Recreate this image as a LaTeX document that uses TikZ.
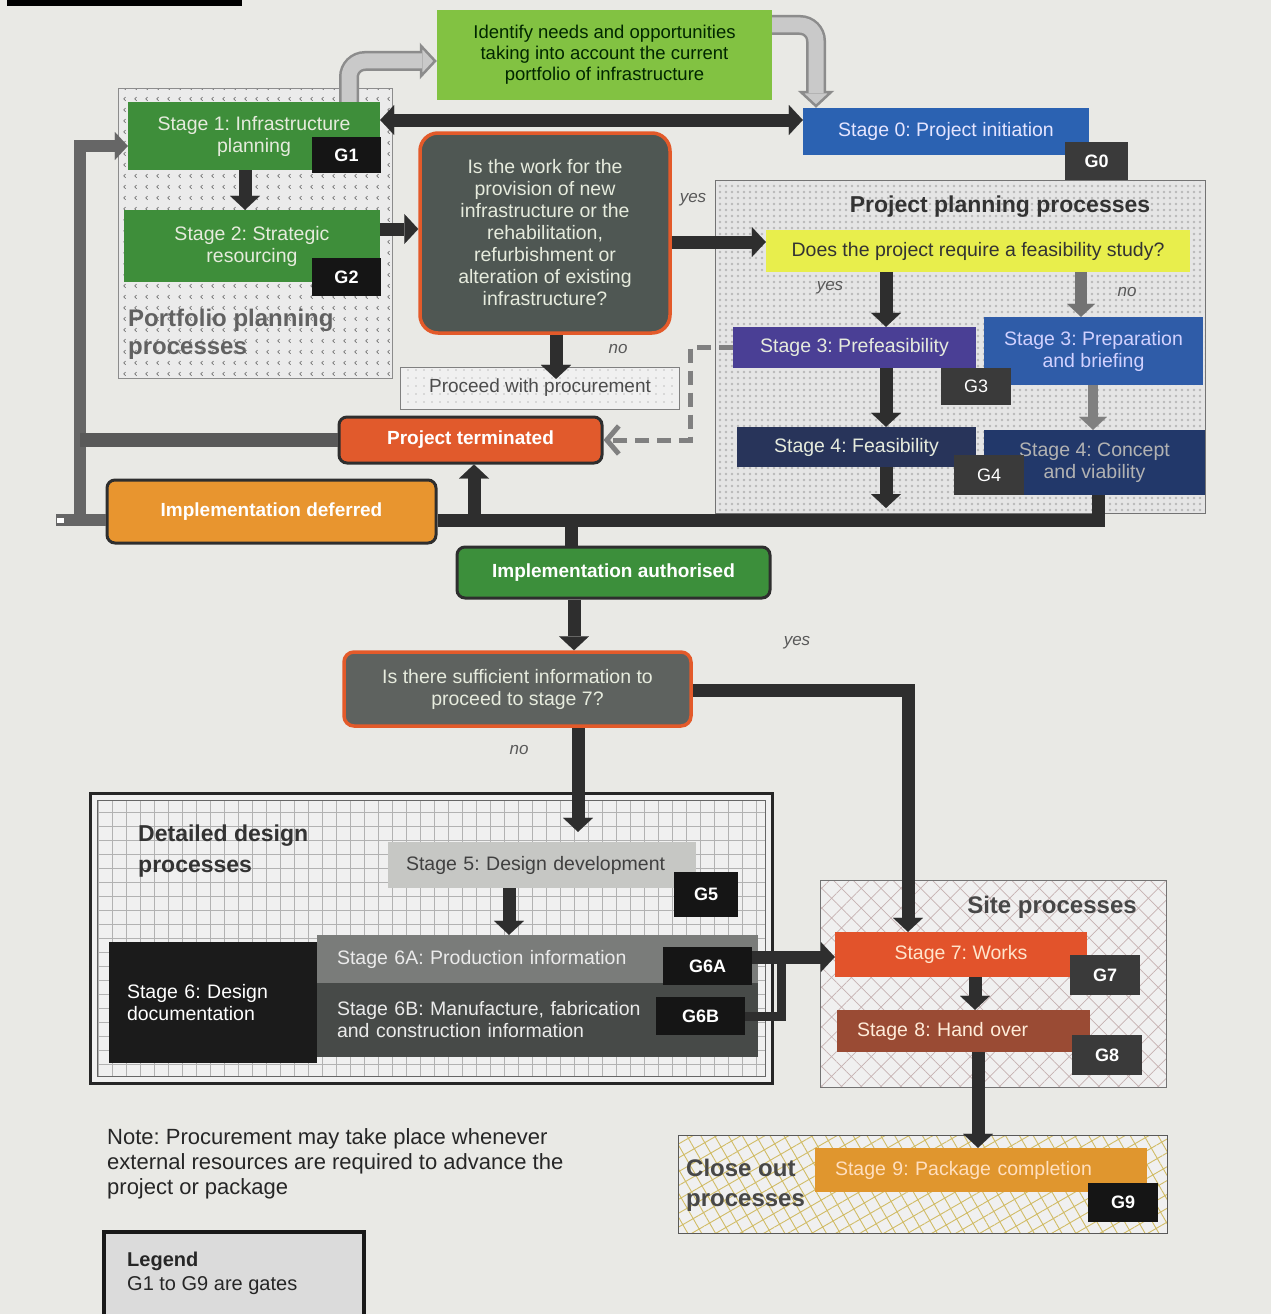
\documentclass[tikz,border=0pt]{standalone}
\usepackage{fontspec}
\setmainfont{Liberation Sans}
\usetikzlibrary{arrows.meta,patterns,patterns.meta}

\tikzdeclarepattern{name=ticks, type=uncolored,
  bounding box={(0pt,0pt) and (11pt,11pt)},
  tile size={(11pt,11pt)},
  code={\path[draw,line width=0.7pt] (5pt,7.5pt) -- (3pt,5.5pt) -- (5pt,3.5pt);}}

\definecolor{bgc}{HTML}{E9E9E5}
\definecolor{arrc}{HTML}{2E2E2E}
\definecolor{grayc}{HTML}{6A6A6A}
\definecolor{green1}{HTML}{3E8E3A}
\definecolor{limec}{HTML}{82C242}
\definecolor{blue0}{HTML}{2B62B2}
\definecolor{decc}{HTML}{4F5753}
\definecolor{decb}{HTML}{E35A2A}
\definecolor{yelc}{HTML}{E8EE4C}
\definecolor{purp}{HTML}{4A3F95}
\definecolor{blue3}{HTML}{2F5CA8}
\definecolor{navy4}{HTML}{28345A}
\definecolor{blue4}{HTML}{22386A}
\definecolor{gatec}{HTML}{151515}
\definecolor{gatecb}{HTML}{3A3A3A}
\definecolor{termc}{HTML}{E15A2C}
\definecolor{deferc}{HTML}{E8952F}
\definecolor{authc}{HTML}{3C8F3B}
\definecolor{dec2c}{HTML}{5E625F}
\definecolor{s5c}{HTML}{C6C7C4}
\definecolor{s6c}{HTML}{1B1B1B}
\definecolor{s6ac}{HTML}{7A7C7A}
\definecolor{s6bc}{HTML}{474A48}
\definecolor{s7c}{HTML}{E2532B}
\definecolor{s8c}{HTML}{9A4B34}
\definecolor{s9c}{HTML}{E0962E}
\definecolor{ltxt}{HTML}{E6EBDD}
\definecolor{hollowc}{HTML}{C9C9C9}
\definecolor{hollowd}{HTML}{8C8C8C}

\newcommand\mkbox[7]{\node[#1, minimum width={#5-#3}, minimum height={#6-#4}] (#2) at ({(#3+#5)/2},{(#4+#6)/2}) {#7};}

\begin{document}
\frenchspacing
\begin{tikzpicture}[x=1pt,y=-1pt,
  stg/.style={inner sep=0pt, align=center, draw=none, text=ltxt, font=\fontsize{19.5}{22}\selectfont},
  gatebox/.style={inner sep=0pt, fill=gatec, text=white, font=\fontsize{18}{20}\selectfont\bfseries},
  rbox/.style={inner sep=0pt, align=center, rounded corners=8pt, draw=arrc, line width=3pt, text=white, font=\fontsize{19}{22}\selectfont\bfseries},
  decbox/.style={inner sep=0pt, align=center, rounded corners=18pt, draw=decb, line width=3.5pt, text=ltxt, font=\fontsize{19.5}{22}\selectfont},
  grptitle/.style={inner sep=0pt, align=left, font=\fontsize{24}{30}\selectfont\bfseries, text=black!80},
  lbl/.style={inner sep=0pt, font=\fontsize{17}{20}\selectfont\itshape, text=black!65},
  arr/.style={line width=13pt, draw=arrc, -{Triangle[length=14pt,width=30pt,line width=0.1pt]}},
  thickbar/.style={line width=13pt, draw=arrc},
  grayarr/.style={line width=12pt, draw=grayc, -{Triangle[length=13pt,width=28pt,line width=0.1pt]}},
  graybar/.style={line width=12pt, draw=grayc},
  dasharr/.style={line width=5pt, draw=black!50, dash pattern=on 14pt off 8pt, -{Straight Barb[length=12pt,width=28pt,line width=5pt]}},
  hollowout/.style={line width=20pt, draw=hollowd, rounded corners=16pt, -{Triangle[length=17pt,width=36pt,line width=2.5pt,fill=hollowc]}},
  hollowin/.style={line width=15pt, draw=hollowc, rounded corners=16pt, shorten >=15pt}
]
\useasboundingbox (0,0) rectangle (1271,1314);
\clip (0,0) rectangle (1271,1314);
\fill[bgc] (0,0) rectangle (1271,1314);
\fill[black] (7,0) rectangle (242,6);

% ---------- group regions ----------
\fill[black!8] (118,88) rectangle (392,378);
\fill[pattern=ticks, pattern color=black!55] (118,88) rectangle (392,378);
\draw[black!45, line width=1pt] (118,88) rectangle (392,378);

\fill[black!10] (715,180) rectangle (1205,513);
\fill[pattern={Dots[distance=6pt,radius=1.3pt]}, pattern color=black!28] (715,180) rectangle (1205,513);
\draw[black!55, line width=1pt] (715,180) rectangle (1205,513);

\fill[black!6] (400,367) rectangle (679,409);
\fill[pattern={Dots[distance=8pt,radius=0.7pt]}, pattern color=black!45] (400,367) rectangle (679,409);
\draw[black!50, line width=0.8pt] (400,367) rectangle (679,409);

\fill[black!6] (90,793) rectangle (772,1083);
\draw[black!30, line width=0.8pt, step=14pt] (97,800) grid (765,1076);
\draw[black!85, line width=3pt] (90,793) rectangle (772,1083);
\draw[black!60, line width=1pt] (97,800) rectangle (765,1076);

\fill[black!6] (820,880) rectangle (1166,1087);
\fill[pattern={Hatch[distance=14pt,angle=45,line width=0.7pt]}, pattern color=red!25!black!30] (820,880) rectangle (1166,1087);
\draw[black!55, line width=1pt] (820,880) rectangle (1166,1087);

\fill[black!6] (678,1135) rectangle (1167,1233);
\fill[pattern={Hatch[distance=12pt,angle=30,line width=0.9pt]}, pattern color=yellow!60!orange!70!black!60] (678,1135) rectangle (1167,1233);
\draw[black!65, line width=1pt] (678,1135) rectangle (1167,1233);

% ---------- group titles ----------
\node[grptitle, text=black!62, anchor=west, font=\fontsize{24}{28}\selectfont\bfseries] (tport) at (128,334) {Portfolio planning\\processes};
\node[grptitle, font=\fontsize{23}{28}\selectfont\bfseries] (tproj) at (1000,207) {Project planning processes};
\node[grptitle, anchor=west, font=\fontsize{23}{31}\selectfont\bfseries] (tdd) at (138,851) {Detailed design\\processes};
\node[grptitle, text=black!72] (tsite) at (1052,907) {Site processes};
\node[grptitle, text=black!72, anchor=west] (tclose) at (686,1185) {Close out\\processes};

% ---------- boxes ----------
\mkbox{stg, fill=limec, text=black!75!green!60!black, font=\fontsize{18.5}{21}\selectfont}{ident}{437}{10}{772}{100}{Identify needs and opportunities\\taking into account the current\\portfolio of infrastructure}
\mkbox{stg, fill=green1}{s1}{128}{102}{380}{170}{Stage 1: Infrastructure\\planning}
\mkbox{gatebox}{g1}{312}{137}{381}{173}{G1}
\mkbox{stg, fill=green1}{s2}{124}{210}{380}{282}{Stage 2: Strategic\\resourcing}
\mkbox{gatebox}{g2}{312}{258}{381}{296}{G2}
\mkbox{stg, fill=blue0, text=white!90!blue}{s0}{803}{108}{1089}{155}{Stage 0: Project initiation}
\mkbox{gatebox, fill=gatecb}{g0}{1065}{142}{1128}{180}{G0}
\mkbox{decbox, fill=decc}{dec1}{420}{133}{670}{333}{Is the work for the\\provision of new\\infrastructure or the\\rehabilitation,\\refurbishment or\\alteration of existing\\infrastructure?}
\mkbox{stg, fill=yelc, text=black!80}{yel}{766}{230}{1190}{272}{Does the project require a feasibility study?}
\mkbox{stg, fill=purp}{s3a}{733}{327}{976}{368}{Stage 3: Prefeasibility}
\mkbox{stg, fill=blue3, text=white!82!blue}{s3b}{984}{317}{1203}{385}{Stage 3: Preparation\\and briefing}
\mkbox{gatebox, fill=gatecb, font=\fontsize{18}{20}\selectfont}{g3}{941}{368}{1011}{405}{G3}
\mkbox{stg, fill=navy4}{s4a}{737}{427}{976}{467}{Stage 4: Feasibility}
\mkbox{stg, fill=blue4, text=black!30}{s4b}{984}{430}{1205}{495}{Stage 4: Concept\\and viability}
\mkbox{gatebox, fill=gatecb, font=\fontsize{18}{20}\selectfont}{g4}{954}{455}{1024}{495}{G4}
\node[inner sep=0pt, text=black!70, font=\fontsize{19}{22}\selectfont] (proc) at (540,388) {Proceed with procurement};
\mkbox{rbox, fill=termc}{term}{339}{417}{602}{463}{Project terminated}
\mkbox{rbox, fill=deferc}{defer}{107}{480}{436}{543}{Implementation deferred}
\mkbox{rbox, fill=authc}{auth}{457}{547}{770}{598}{Implementation authorised}
\mkbox{decbox, fill=dec2c, rounded corners=10pt}{dec2}{344}{652}{691}{726}{Is there sufficient information to\\proceed to stage 7?}
\mkbox{stg, fill=s5c, text=black!75, align=left, inner xsep=18pt, text width=272pt}{s5}{388}{842}{696}{888}{Stage 5: Design development}
\mkbox{gatebox}{g5}{674}{872}{738}{917}{G5}
\mkbox{stg, fill=s6c, text=white, align=left, inner xsep=18pt, text width=172pt}{s6}{109}{942}{317}{1063}{Stage 6: Design\\documentation}
\mkbox{stg, fill=s6ac, text=white!92!black, align=left, inner xsep=20pt, text width=401pt}{s6a}{317}{935}{758}{983}{Stage 6A: Production information}
\mkbox{stg, fill=s6bc, text=white!92!black, align=left, inner xsep=20pt, text width=401pt}{s6b}{317}{983}{758}{1057}{Stage 6B: Manufacture, fabrication\\and construction information}
\mkbox{gatebox}{g6a}{663}{947}{752}{985}{G6A}
\mkbox{gatebox}{g6b}{656}{997}{745}{1035}{G6B}
\mkbox{stg, fill=s7c, text=white!80!orange}{s7}{835}{932}{1087}{977}{Stage 7: Works}
\mkbox{gatebox, fill=gatecb}{g7}{1070}{955}{1140}{995}{G7}
\mkbox{stg, fill=s8c, text=white!85!orange, align=left, inner xsep=20pt, text width=213pt}{s8}{837}{1010}{1090}{1052}{Stage 8: Hand over}
\mkbox{gatebox, fill=gatecb}{g8}{1072}{1035}{1142}{1075}{G8}
\mkbox{stg, fill=s9c, text=white!75!orange, align=left, inner xsep=20pt, text width=292pt}{s9}{815}{1148}{1147}{1192}{Stage 9: Package completion}
\mkbox{gatebox}{g9}{1088}{1183}{1158}{1222}{G9}

% ---------- labels ----------
\node[lbl] (yes1) at (693,200) {yes};
\node[lbl] (no1) at (618,349) {no};
\node[lbl] (yes2) at (830,288) {yes};
\node[lbl] (no2) at (1127,292) {no};
\node[lbl] (yes3) at (797,643) {yes};
\node[lbl] (no3) at (519,750) {no};

% ---------- junction coordinates ----------
\coordinate (xA) at (245,0);
\coordinate (yB) at (0,229);
\coordinate (yC) at (0,242);
\coordinate (xD) at (556,0);
\coordinate (yE) at (0,120);
\coordinate (xF) at (886,0);
\coordinate (xG) at (1081,0);
\coordinate (xI) at (1093,0);
\coordinate (jF) at (886,508);
\coordinate (jR) at (1098,520);
\coordinate (jUp) at (474,520);
\coordinate (jA) at (571,520);
\coordinate (xN) at (574,0);
\coordinate (jO) at (908,690);
\coordinate (xP) at (578,0);
\coordinate (xQ) at (509,0);
\coordinate (yR) at (0,957);
\coordinate (jS) at (781,957);
\coordinate (xT) at (975,0);
\coordinate (xU) at (978,0);
\coordinate (jL) at (80,520);
\coordinate (jLs) at (56,520);
\coordinate (jLt) at (80,146);
\coordinate (jD) at (690,0);
\coordinate (xH1) at (349,0);
\coordinate (yH1) at (0,61);
\coordinate (xH2) at (816,0);
\coordinate (yH2) at (0,25);

% ---------- connectors ----------
\draw[hollowout] (s1.north -| xH1) -- (xH1 |- yH1) -- (ident.west |- yH1);
\draw[hollowin] (s1.north -| xH1) -- (xH1 |- yH1) -- (ident.west |- yH1);
\draw[hollowout] (ident.east |- yH2) -- (xH2 |- yH2) -- (s0.north -| xH2);
\draw[hollowin] (ident.east |- yH2) -- (xH2 |- yH2) -- (s0.north -| xH2);

\draw[line width=13pt, draw=arrc, {Triangle[length=14pt,width=30pt,line width=0.1pt]}-{Triangle[length=14pt,width=30pt,line width=0.1pt]}] (s1.east |- yE) -- (s0.west |- yE);
\draw[arr] (s1.south -| xA) -- (s2.north -| xA);
\draw[arr] (s2.east |- yB) -- (dec1.west |- yB);
\draw[arr] (dec1.east |- yC) -- (yel.west |- yC);
\draw[arr] (dec1.south -| xD) -- (proc.north -| xD);
\draw[arr] (yel.south -| xF) -- (s3a.north -| xF);
\draw[grayarr, draw=black!55] (yel.south -| xG) -- (s3b.north -| xG);
\draw[arr] (s3a.south -| xF) -- (s4a.north -| xF);
\draw[grayarr, draw=black!50, line width=10pt] (s3b.south -| xI) -- (s4b.north -| xI);
\draw[arr] (s4a.south -| xF) -- (jF);
\draw[thickbar] (defer.east |- jR) -- (jR) -- (jR |- s4b.south);
\draw[arr] (jUp) -- (jUp |- term.south);
\draw[thickbar] (jA) -- (jA |- auth.north);
\draw[arr] (auth.south -| xN) -- (dec2.north -| xN);
\draw[arr] (dec2.east |- jO) -- (jO) -- (jO |- s7.north);
\draw[arr, shorten >=10pt] (dec2.south -| xP) -- (s5.north -| xP);
\draw[arr] (s5.south -| xQ) -- (s6a.north -| xQ);
\draw[arr] (g6a.east |- yR) -- (s7.west |- yR);
\draw[line width=9pt, draw=arrc] (g6b.east) -- (g6b.east -| jS) -- (jS);
\draw[arr] (s7.south -| xT) -- (s8.north -| xT);
\draw[arr] (s8.south -| xU) -- (s9.north -| xU);
\draw[graybar, draw=black!60] (defer.west |- jL) -- (jLs);
\node[draw=black!60, fill=white, line width=1pt, minimum width=8pt, minimum height=6pt, inner sep=0pt] (sq) at (60,520) {};
\draw[grayarr, draw=black!60] (jL) -- (jLt) -- (s1.west |- jLt);
\draw[thickbar, draw=black!65, line width=14pt] (term.west) -- (term.west -| jL);
\draw[dasharr] (s3a.west) -- (s3a.west -| jD) -- (jD |- term.east) -- (term.east);

% ---------- note and legend ----------
\node[anchor=west, align=left, inner sep=0pt, text=black!85, font=\fontsize{22}{25}\selectfont] (note) at (107,1164) {Note: Procurement may take place whenever\\external resources are required to advance the\\project or package};
\draw[fill=black!14, draw=black!90, line width=4pt] (104,1232) rectangle (364,1330);
\node[anchor=north west, align=left, inner sep=0pt, text=black!85, font=\fontsize{20}{24}\selectfont] (leg) at (127,1252) {\textbf{Legend}\\G1 to G9 are gates};
\end{tikzpicture}
\end{document}
